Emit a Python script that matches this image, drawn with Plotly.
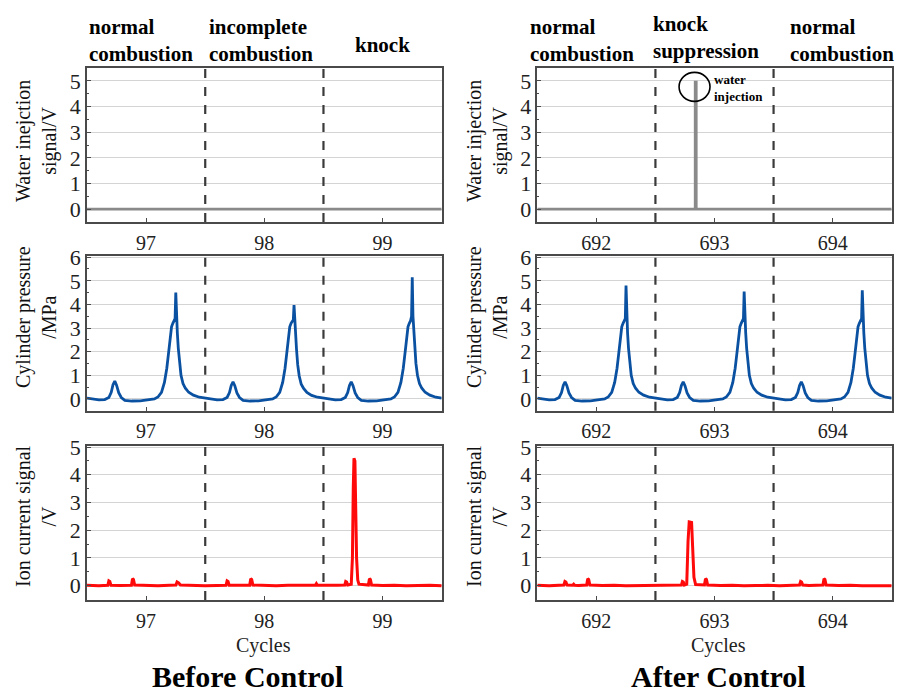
import plotly.graph_objects as go

W, H = 911, 693

# ---------------- data ----------------
cycles_before = [97, 98, 99]
cycles_after = [692, 693, 694]
x_range_before = [96.5, 99.5]
x_range_after = [691.5, 694.5]
boundaries_before = [97.5, 98.5]
boundaries_after = [692.5, 693.5]

# water injection signal (V)
water_before_x = [96.5, 99.5]
water_before_y = [0.0, 0.0]
water_after_x = [691.5, 692.836, 692.836, 692.846, 692.846, 694.5]
water_after_y = [0.0, 0.0, 4.95, 4.95, 0.0, 0.0]

# cylinder pressure (MPa): sampled at offsets within each cycle
press_offsets = [-0.500, -0.450, -0.400, -0.350, -0.315, -0.295, -0.280, -0.265, -0.250,
                 -0.232, -0.210, -0.180, -0.120, -0.050, 0.020, 0.070, 0.100, 0.130,
                 0.155, 0.175, 0.190, 0.204, 0.215, 0.226, 0.236, 0.245, 0.251, 0.257,
                 0.264, 0.272, 0.282, 0.295, 0.312, 0.332, 0.360, 0.400, 0.450]
press_97 = [0.03, 0.00, -0.04, -0.03, 0.06, 0.28, 0.60, 0.75, 0.58, 0.26, 0.06, -0.06, -0.09,
            -0.08, -0.05, 0.00, 0.08, 0.28, 0.70, 1.30, 1.95, 2.70, 3.05, 3.20, 3.30, 3.40,
            4.50, 3.40, 2.80, 2.15, 1.50, 1.00, 0.65, 0.45, 0.28, 0.16, 0.07]
press_98 = [0.03, 0.00, -0.04, -0.03, 0.06, 0.27, 0.57, 0.72, 0.56, 0.25, 0.06, -0.06, -0.09,
            -0.08, -0.05, 0.00, 0.08, 0.28, 0.70, 1.30, 1.95, 2.70, 3.05, 3.20, 3.28, 3.35,
            3.97, 3.30, 2.75, 2.10, 1.45, 0.97, 0.62, 0.44, 0.27, 0.15, 0.07]
press_99 = [0.03, 0.00, -0.04, -0.03, 0.06, 0.27, 0.57, 0.72, 0.56, 0.25, 0.06, -0.06, -0.09,
            -0.08, -0.05, 0.00, 0.08, 0.28, 0.70, 1.30, 1.95, 2.70, 3.05, 3.20, 3.30, 3.50,
            5.15, 3.50, 2.80, 2.15, 1.50, 1.00, 0.65, 0.45, 0.28, 0.16, 0.07]
press_692 = [0.03, 0.00, -0.04, -0.03, 0.06, 0.27, 0.57, 0.72, 0.56, 0.25, 0.06, -0.06, -0.09,
             -0.08, -0.05, 0.00, 0.08, 0.28, 0.70, 1.30, 1.95, 2.70, 3.05, 3.20, 3.30, 3.40,
             4.80, 3.40, 2.80, 2.15, 1.50, 1.00, 0.65, 0.45, 0.28, 0.16, 0.07]
press_693 = [0.03, 0.00, -0.04, -0.03, 0.06, 0.27, 0.57, 0.72, 0.56, 0.25, 0.06, -0.06, -0.09,
             -0.08, -0.05, 0.00, 0.08, 0.28, 0.70, 1.30, 1.95, 2.70, 3.05, 3.20, 3.30, 3.40,
             4.55, 3.40, 2.80, 2.15, 1.50, 1.00, 0.65, 0.45, 0.28, 0.16, 0.07]
press_694 = [0.03, 0.00, -0.04, -0.03, 0.06, 0.27, 0.57, 0.72, 0.56, 0.25, 0.06, -0.06, -0.09,
             -0.08, -0.05, 0.00, 0.08, 0.28, 0.70, 1.30, 1.95, 2.70, 3.05, 3.20, 3.30, 3.40,
             4.60, 3.40, 2.80, 2.15, 1.50, 1.00, 0.65, 0.45, 0.28, 0.16, 0.07]
press_end = 0.03

# ion current signal (V)
ion_before_x = [96.50, 96.60, 96.676, 96.685, 96.693, 96.703, 96.78, 96.876, 96.885, 96.893,
                96.903, 97.00, 97.10, 97.20, 97.252, 97.262, 97.275, 97.29, 97.40, 97.50,
                97.60, 97.676, 97.685, 97.693, 97.703, 97.78, 97.876, 97.885, 97.893, 97.903,
                98.00, 98.10, 98.20, 98.30, 98.40, 98.433, 98.440, 98.447, 98.55, 98.62,
                98.680, 98.688, 98.696, 98.705, 98.735, 98.745, 98.752, 98.758, 98.766,
                98.772, 98.780, 98.790, 98.800, 98.880, 98.889, 98.897, 98.907, 99.00,
                99.10, 99.20, 99.30, 99.40, 99.50]
ion_before_y = [0.01, -0.01, 0.01, 0.17, 0.15, 0.01, 0.00, 0.01, 0.25, 0.22, 0.02, 0.00,
                -0.01, 0.01, 0.02, 0.13, 0.10, 0.02, 0.00, -0.01, 0.00, 0.01, 0.17, 0.15,
                0.01, 0.00, 0.01, 0.25, 0.22, 0.02, 0.00, -0.01, 0.01, 0.00, 0.01, 0.02,
                0.07, 0.02, 0.00, 0.01, 0.02, 0.15, 0.13, 0.02, 0.05, 1.00, 3.50, 4.60,
                4.50, 3.00, 1.00, 0.20, 0.05, 0.02, 0.25, 0.22, 0.02, 0.00, 0.01, -0.01,
                0.00, 0.01, -0.01]
ion_after_x = [691.50, 691.60, 691.725, 691.734, 691.742, 691.752, 691.80, 691.808, 691.816,
               691.85, 691.918, 691.927, 691.935, 691.945, 692.05, 692.15, 692.25, 692.35,
               692.45, 692.55, 692.65, 692.720, 692.728, 692.736, 692.745, 692.765, 692.776,
               692.786, 692.806, 692.816, 692.826, 692.840, 692.915, 692.924, 692.932,
               692.942, 693.05, 693.15, 693.25, 693.35, 693.45, 693.55, 693.65, 693.720,
               693.729, 693.737, 693.747, 693.80, 693.918, 693.927, 693.935, 693.945,
               694.05, 694.15, 694.25, 694.35, 694.50]
ion_after_y = [0.01, -0.01, 0.02, 0.15, 0.13, 0.02, 0.01, 0.05, 0.01, 0.00, 0.02, 0.25,
               0.22, 0.02, 0.00, 0.01, -0.01, 0.00, 0.01, 0.00, 0.01, 0.02, 0.15, 0.13,
               0.02, 0.05, 1.60, 2.30, 2.28, 1.40, 0.30, 0.04, 0.02, 0.25, 0.22, 0.02,
               0.00, 0.01, -0.01, 0.00, 0.01, -0.01, 0.00, 0.02, 0.15, 0.13, 0.02, 0.00,
               0.02, 0.25, 0.22, 0.02, 0.00, 0.01, -0.01, 0.00, -0.01]

headers_before = ["normal<br>combustion", "incomplete<br>combustion", "knock"]
headers_after = ["normal<br>combustion", "knock<br>suppression", "normal<br>combustion"]
ytitles_before = ["Water inejction<br>signal/V", "Cylinder pressure<br>/MPa", "Ion current signal<br>/V"]
ytitles_after = ["Water injection<br>signal/V", "Cylinder pressure<br>/MPa", "Ion current signal<br>/V"]

# ---------------- helpers ----------------
def build_pressure(cycles, series):
    xs, ys = [], []
    for c, vals in zip(cycles, series):
        for o, v in zip(press_offsets, vals):
            xs.append(c + o)
            ys.append(v)
    xs.append(cycles[-1] + 0.5)
    ys.append(press_end)
    return xs, ys

FONT = "'Liberation Serif', 'Times New Roman', Times, serif"
BLUE = "#0b51a1"
RED = "#ff0a0a"
GRAYLINE = "#8a8a8a"
FRAME = "#4a4a4a"

def px_x(p):
    return p / W

def px_y(p):
    return 1 - p / H

col_dom = [[px_x(87), px_x(441.7)], [px_x(537.3), px_x(891.7)]]
row_dom = [[px_y(222), px_y(68)], [px_y(410.7), px_y(256)], [px_y(600), px_y(445.7)]]
y_ranges = [[-0.5, 5.5], [-0.5, 6.05], [-0.52, 5.05]]
y_ticks = [[0, 1, 2, 3, 4, 5], [0, 1, 2, 3, 4, 5, 6], [0, 1, 2, 3, 4, 5]]

fig = go.Figure()

pb_x, pb_y = build_pressure(cycles_before, [press_97, press_98, press_99])
pa_x, pa_y = build_pressure(cycles_after, [press_692, press_693, press_694])

traces = [
    (water_before_x, water_before_y, GRAYLINE, 2.6, 1),
    (water_after_x, water_after_y, GRAYLINE, 2.6, 2),
    (pb_x, pb_y, BLUE, 2.8, 3),
    (pa_x, pa_y, BLUE, 2.8, 4),
    (ion_before_x, ion_before_y, RED, 3.0, 5),
    (ion_after_x, ion_after_y, RED, 3.0, 6),
]
for xs, ys, col, w, k in traces:
    fig.add_trace(go.Scatter(x=xs, y=ys, mode="lines", line=dict(color=col, width=w),
                             xaxis="x" if k == 1 else f"x{k}", yaxis="y" if k == 1 else f"y{k}",
                             showlegend=False, hoverinfo="skip"))

layout = dict(width=W, height=H, margin=dict(l=0, r=0, t=0, b=0, pad=0),
              paper_bgcolor="white", plot_bgcolor="white", autosize=False,
              font=dict(family=FONT, color="#111"), showlegend=False)

shapes = []
annotations = []
for k in range(1, 7):
    row = (k - 1) // 2
    col = (k - 1) % 2
    xr = x_range_before if col == 0 else x_range_after
    cyc = cycles_before if col == 0 else cycles_after
    bnd = boundaries_before if col == 0 else boundaries_after
    xname = "xaxis" if k == 1 else f"xaxis{k}"
    yname = "yaxis" if k == 1 else f"yaxis{k}"
    xref = "x" if k == 1 else f"x{k}"
    yref = "y" if k == 1 else f"y{k}"
    layout[xname] = dict(domain=col_dom[col], range=xr, anchor=yref, showgrid=False,
                         zeroline=False, showline=True, linecolor=FRAME, linewidth=1.5,
                         mirror=True, ticks="inside", ticklen=4, tickcolor=FRAME,
                         tickvals=cyc, ticktext=[str(c) for c in cyc],
                         tickfont=dict(size=20, color="#222", family=FONT),
                         ticklabelstandoff=2, automargin=False)
    layout[yname] = dict(domain=row_dom[row], range=y_ranges[row], anchor=xref,
                         showgrid=True, gridcolor="#d4d4d4", gridwidth=1.3, zeroline=False,
                         showline=True, linecolor=FRAME, linewidth=1.5, mirror=True,
                         ticks="inside", ticklen=4, tickcolor=FRAME, tickvals=y_ticks[row],
                         tickfont=dict(size=22, color="#222", family=FONT), automargin=False,
                         minor=dict(ticks="inside", ticklen=2, tickcolor=FRAME, dtick=0.5,
                                    showgrid=False))
    for b in bnd:
        shapes.append(dict(type="line", xref=xref, yref=f"{yref} domain", x0=b, x1=b,
                           y0=0, y1=1, line=dict(color="#3a3a3a", width=2.2, dash="dash"),
                           layer="above"))

# y-axis titles
ytitle_y = [141, 317, 516]
for col, titles in enumerate([ytitles_before, ytitles_after]):
    xc = 36 if col == 0 else 487
    for row, t in enumerate(titles):
        annotations.append(dict(text=t, xref="paper", yref="paper", x=px_x(xc),
                                y=px_y(ytitle_y[row]), xanchor="center", yanchor="middle",
                                textangle=-90, showarrow=False,
                                font=dict(size=20, family=FONT, color="#111")))

# headers
hdr_pos_before = [(87, "left", 40), (207, "left", 40), (382, "center", 45)]
hdr_pos_after = [(527.7, "left", 40), (651, "left", 38), (788, "left", 40)]
for texts, poss in [(headers_before, hdr_pos_before), (headers_after, hdr_pos_after)]:
    for t, (xp, anc, yp) in zip(texts, poss):
        annotations.append(dict(text=f"<b>{t}</b>", xref="paper", yref="paper", x=px_x(xp),
                                y=px_y(yp), xanchor=anc, yanchor="middle", align="left",
                                showarrow=False, font=dict(size=21, family=FONT, color="#000")))

# x titles and panel captions
for xc in [263.5, 718]:
    annotations.append(dict(text="Cycles", xref="paper", yref="paper", x=px_x(xc),
                            y=px_y(645), xanchor="center", yanchor="middle", showarrow=False,
                            font=dict(size=20, family=FONT, color="#222")))
annotations.append(dict(text="<b>Before Control</b>", xref="paper", yref="paper",
                        x=px_x(247.5), y=px_y(676), xanchor="center", yanchor="middle",
                        showarrow=False, font=dict(size=30, family=FONT, color="#000")))
annotations.append(dict(text="<b>After Control</b>", xref="paper", yref="paper",
                        x=px_x(718), y=px_y(676.5), xanchor="center", yanchor="middle",
                        showarrow=False, font=dict(size=30, family=FONT, color="#000")))

# water injection marker
shapes.append(dict(type="circle", xref="x2", yref="y2", x0=692.70, x1=692.962,
                   y0=4.20, y1=5.33, line=dict(color="#000", width=1.6), layer="above"))
annotations.append(dict(text="<b>water<br>injection</b>", xref="x2", yref="y2", x=692.975,
                        y=4.72, xanchor="left", yanchor="middle", align="left",
                        showarrow=False, font=dict(size=13, family=FONT, color="#000")))

layout["shapes"] = shapes
layout["annotations"] = annotations
fig.update_layout(**layout)
fig.write_html(
    "out.html",
    config={"responsive": False, "displayModeBar": False},
    post_script="document.body.style.margin='0';document.body.style.padding='0';"
                "document.documentElement.style.overflow='hidden';",
)
